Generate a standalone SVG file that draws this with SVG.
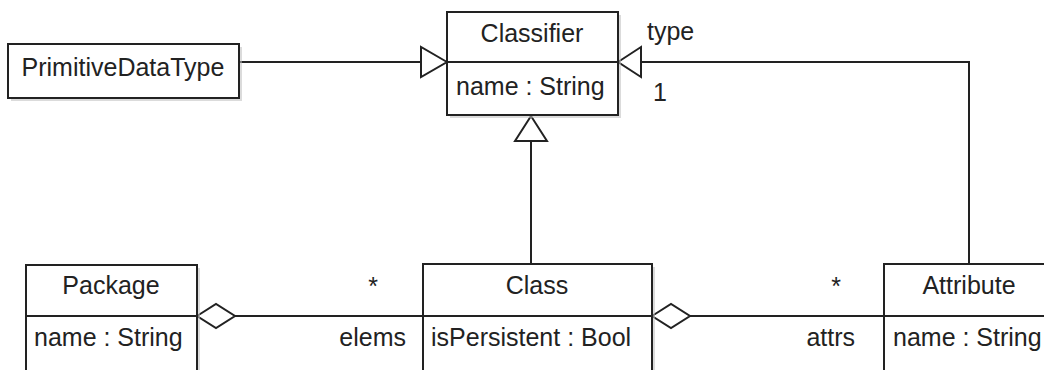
<svg xmlns="http://www.w3.org/2000/svg" width="1044" height="370" viewBox="0 0 1044 370">
  <style>
    .box { fill: #ffffff; stroke: #222222; stroke-width: 2; }
    .shadow { fill: #bdbdbd; opacity: 0.55; }
    .div { stroke: #222222; stroke-width: 2; }
    .edge { fill: none; stroke: #222222; stroke-width: 2; }
    .head { fill: #ffffff; stroke: #222222; stroke-width: 2; stroke-linejoin: miter; }
    text { font-family: "Liberation Sans", Arial, sans-serif; font-size: 25px; fill: #222222; }
    .c { text-anchor: middle; }
    .r { text-anchor: end; }
  </style>

  <!-- connectors -->
  <g id="connectors">
    <!-- PrimitiveDataType generalizes Classifier -->
    <line class="edge" x1="238" y1="62" x2="421" y2="62"/>
    <polygon class="head" points="447,62 421,47 421,77"/>
    <!-- Class generalizes Classifier -->
    <line class="edge" x1="531" y1="141" x2="531" y2="264"/>
    <polygon class="head" points="531,116 515,141 547,141"/>
    <!-- Attribute type association -->
    <polyline class="edge" points="969,264 969,62 641,62"/>
    <polygon class="head" points="618,62 641,47 641,77"/>
    <text x="647" y="40">type</text>
    <text x="660" y="101" class="c">1</text>
    <!-- Package aggregates Class -->
    <line class="edge" x1="235" y1="316" x2="423" y2="316"/>
    <polygon class="head" points="197,316 216,304 235,316 216,328"/>
    <text x="373" y="295" class="c">*</text>
    <text x="406" y="346" class="r">elems</text>
    <!-- Class aggregates Attribute -->
    <line class="edge" x1="690" y1="316" x2="884" y2="316"/>
    <polygon class="head" points="652,316 671,304 690,316 671,328"/>
    <text x="836" y="295" class="c">*</text>
    <text x="855" y="346" class="r">attrs</text>
  </g>

  <!-- PrimitiveDataType -->
  <g id="primitivedatatype">
    <rect class="shadow" x="11" y="47" width="231" height="54"/>
    <rect class="box" x="8" y="44" width="231" height="54"/>
    <text x="123" y="76" class="c">PrimitiveDataType</text>
  </g>

  <!-- Classifier -->
  <g id="classifier">
    <rect class="shadow" x="450" y="15" width="171" height="103"/>
    <rect class="box" x="447" y="12" width="171" height="103"/>
    <line class="div" x1="447" y1="62" x2="618" y2="62"/>
    <text x="532" y="42" class="c">Classifier</text>
    <text x="456" y="95">name : String</text>
  </g>

  <!-- Package -->
  <g id="package">
    <rect class="shadow" x="29" y="268" width="171" height="110"/>
    <rect class="box" x="26" y="265" width="171" height="110"/>
    <line class="div" x1="26" y1="316" x2="197" y2="316"/>
    <text x="111" y="294" class="c">Package</text>
    <text x="34" y="346">name : String</text>
  </g>

  <!-- Class -->
  <g id="class">
    <rect class="shadow" x="426" y="267" width="229" height="110"/>
    <rect class="box" x="423" y="264" width="229" height="110"/>
    <line class="div" x1="423" y1="316" x2="652" y2="316"/>
    <text x="537" y="294" class="c">Class</text>
    <text x="431" y="346">isPersistent : Bool</text>
  </g>

  <!-- Attribute -->
  <g id="attribute">
    <rect class="box" x="884" y="264" width="180" height="110"/>
    <line class="div" x1="884" y1="316" x2="1044" y2="316"/>
    <text x="969" y="294" class="c">Attribute</text>
    <text x="893" y="346">name : String</text>
  </g>
</svg>
